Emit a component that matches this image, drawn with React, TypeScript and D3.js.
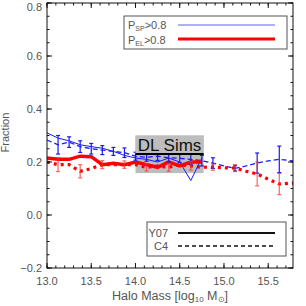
import React from "react";
import * as d3 from "d3";

// C4 bins (log10 halo mass)
const c4Mass = [13.0, 13.125, 13.25, 13.375, 13.5, 13.625, 13.75, 13.875, 14.0, 14.125, 14.25, 14.375, 14.5, 14.625, 14.75, 14.875, 15.0, 15.125, 15.25, 15.375, 15.5, 15.625, 15.75, 15.875];
const c4SP = [0.283, 0.265, 0.275, 0.258, 0.25, 0.245, 0.24, 0.235, 0.222, 0.218, 0.222, 0.216, 0.214, 0.21, 0.205, 0.196, 0.185, 0.176, 0.185, 0.196, 0.204, 0.21, 0.205, 0.2];
const c4SPErr = [0, 0.035, 0.02, 0.022, 0.02, 0.017, 0.015, 0.018, 0.015, 0.015, 0.016, 0.016, 0.016, 0.02, 0.02, 0.02, 0, 0.01, 0, 0.038, 0, 0.05, 0, 0];
const c4EL = [0.2, 0.19, 0.19, 0.165, 0.175, 0.19, 0.19, 0.19, 0.19, 0.18, 0.185, 0.18, 0.19, 0.185, 0.18, 0.181, 0.178, 0.177, 0.165, 0.155, 0.135, 0.117, 0.12, 0.12];
const c4ELErr = [0, 0.026, 0, 0.025, 0, 0.015, 0, 0.014, 0, 0.014, 0, 0.015, 0, 0.016, 0, 0.012, 0, 0.013, 0, 0.045, 0, 0.04, 0, 0];

// Y07 bins
const y07Mass = [13.0, 13.125, 13.25, 13.375, 13.5, 13.625, 13.75, 13.875, 14.0, 14.125, 14.25, 14.375, 14.5, 14.625, 14.75];
const y07SP = [0.31, 0.29, 0.28, 0.265, 0.258, 0.252, 0.24, 0.225, 0.215, 0.21, 0.2, 0.215, 0.2, 0.13, 0.215];
const y07EL = [0.215, 0.21, 0.21, 0.222, 0.22, 0.19, 0.195, 0.19, 0.2, 0.19, 0.18, 0.2, 0.185, 0.2, 0.2];

// DL sims band
const dlMass = [14.0, 14.77];
const dlRange = [0.158, 0.3];
const dlValue = 0.23;

const xTicks = [13.0, 13.5, 14.0, 14.5, 15.0, 15.5];
const yTicks = [-0.2, 0.0, 0.2, 0.4, 0.6, 0.8];

const W = 306, H = 306;
const L = 47, R = 293, T = 3, B = 268;

export default function App() {
  const x = d3.scaleLinear().domain([13, 15.78]).range([L, R]);
  const y = d3.scaleLinear().domain([-0.2, 0.8]).range([B, T]);
  const line = (xs: number[], ys: number[]) =>
    d3.line<number>().x((_, i) => x(xs[i])).y((d) => y(d))(ys) || "";

  const xMinor = d3.range(13.0, 15.79, 0.1);
  const yMinor = d3.range(-0.2, 0.801, 0.05);
  const font = "'Liberation Sans', Arial, sans-serif";
  const grey = "#555";

  const errBars = (xs: number[], ys: number[], es: number[], color: string, op: number) =>
    xs.map((m, i) =>
      es[i] > 0 ? (
        <g key={i} stroke={color} strokeWidth={1.2} opacity={op}>
          <line x1={x(m)} x2={x(m)} y1={y(ys[i] - es[i])} y2={y(ys[i] + es[i])} />
          <line x1={x(m) - 2} x2={x(m) + 2} y1={y(ys[i] - es[i])} y2={y(ys[i] - es[i])} />
          <line x1={x(m) - 2} x2={x(m) + 2} y1={y(ys[i] + es[i])} y2={y(ys[i] + es[i])} />
        </g>
      ) : null
    );

  const dlX0 = x(dlMass[0]), dlX1 = x(dlMass[1]);

  return (
    <svg width={W} height={H} style={{ position: "absolute", left: 0, top: 0, background: "#fff" }}>
      <defs>
        <clipPath id="plot">
          <rect x={L} y={T} width={R - L} height={B - T} />
        </clipPath>
      </defs>
      {/* DL sims band */}
      <rect x={dlX0} y={y(dlRange[1])} width={dlX1 - dlX0} height={y(dlRange[0]) - y(dlRange[1])} fill="#bdbdbd" />

      <g clipPath="url(#plot)" fill="none">
        <path d={line(c4Mass, c4SP)} stroke="#1a1aff" strokeWidth={1.3} strokeDasharray="5,3" />
        <path d={line(c4Mass, c4EL)} stroke="#ff0000" strokeWidth={3.2} strokeDasharray="3,4" />
        <path d={line(y07Mass, y07SP)} stroke="#1a1aff" strokeWidth={1} />
        <path d={line(y07Mass, y07EL)} stroke="#ff0000" strokeWidth={3.5} />
        {errBars(c4Mass, c4SP, c4SPErr, "#1a1aee", 1)}
        {errBars(c4Mass, c4EL, c4ELErr, "#ff3030", 0.75)}
      </g>

      {/* DL sims label block on top of data */}
      <rect x={dlX0} y={y(dlRange[1])} width={dlX1 - dlX0} height={y(dlValue) - y(dlRange[1])} fill="#bdbdbd" />
      <line x1={dlX0} x2={dlX1} y1={y(dlValue)} y2={y(dlValue)} stroke="#000" strokeWidth={2} />
      <text x={(dlX0 + dlX1) / 2} y={y(dlValue) - 3} textAnchor="middle" fontFamily={font} fontSize={17} fill="#111">DL  Sims</text>

      {/* frame */}
      <rect x={L} y={T} width={R - L} height={B - T} fill="none" stroke="#111" strokeWidth={1} />
      {xMinor.map((v, i) => (
        <g key={"xm" + i} stroke="#111">
          <line x1={x(v)} x2={x(v)} y1={B} y2={B - 2.5} />
          <line x1={x(v)} x2={x(v)} y1={T} y2={T + 2.5} />
        </g>
      ))}
      {xTicks.map((v) => (
        <g key={"xt" + v}>
          <line x1={x(v)} x2={x(v)} y1={B} y2={B - 5} stroke="#111" />
          <line x1={x(v)} x2={x(v)} y1={T} y2={T + 5} stroke="#111" />
          <text x={x(v)} y={B + 17} textAnchor="middle" fontFamily={font} fontSize={11} fill={grey}>{v.toFixed(1)}</text>
        </g>
      ))}
      {yMinor.map((v, i) => (
        <g key={"ym" + i} stroke="#111">
          <line x1={L} x2={L + 2.5} y1={y(v)} y2={y(v)} />
          <line x1={R} x2={R - 2.5} y1={y(v)} y2={y(v)} />
        </g>
      ))}
      {yTicks.map((v) => (
        <g key={"yt" + v}>
          <line x1={L} x2={L + 5} y1={y(v)} y2={y(v)} stroke="#111" />
          <line x1={R} x2={R - 5} y1={y(v)} y2={y(v)} stroke="#111" />
          <text x={L - 5} y={Math.max(y(v) + 4, 11)} textAnchor="end" fontFamily={font} fontSize={11} fill={grey}>{v < 0 ? "\u2212" + Math.abs(v).toFixed(1) : v.toFixed(1)}</text>
        </g>
      ))}

      {/* axis titles */}
      <text transform={`translate(9,${(T + B) / 2 - 3}) rotate(-90)`} textAnchor="middle" fontFamily={font} fontSize={11} fill={grey}>Fraction</text>
      <text x={(L + R) / 2} y={300} textAnchor="middle" fontFamily={font} fontSize={12.5} fill={grey}>
        Halo Mass [log<tspan fontSize={8} dy={2}>10</tspan><tspan dy={-2}> M</tspan><tspan fontSize={8} dy={2}>⊙</tspan><tspan dy={-2}>]</tspan>
      </text>

      {/* legend 1 */}
      <rect x={124} y={16} width={163} height={33} fill="#fff" stroke={grey} strokeWidth={1} />
      <text x={128} y={29} fontFamily={font} fontSize={11} fill={grey}>P<tspan fontSize={7} dy={2}>SP</tspan><tspan dy={-2}>&gt;0.8</tspan></text>
      <text x={128} y={44} fontFamily={font} fontSize={11} fill={grey}>P<tspan fontSize={7} dy={2}>EL</tspan><tspan dy={-2}>&gt;0.8</tspan></text>
      <line x1={178} x2={275} y1={25} y2={25} stroke="#6060ff" strokeWidth={1.2} />
      <line x1={178} x2={275} y1={39} y2={39} stroke="#ff0000" strokeWidth={3} />

      {/* legend 2 */}
      <rect x={147} y={222} width={139} height={34} fill="#fff" stroke={grey} strokeWidth={1} />
      <text x={168} y={237} textAnchor="end" fontFamily={font} fontSize={11} fill={grey}>Y07</text>
      <text x={168} y={250} textAnchor="end" fontFamily={font} fontSize={11} fill={grey}>C4</text>
      <line x1={178} x2={275} y1={233} y2={233} stroke="#111" strokeWidth={2} />
      <line x1={178} x2={275} y1={246} y2={246} stroke="#111" strokeWidth={1.5} strokeDasharray="4,3" />
    </svg>
  );
}
